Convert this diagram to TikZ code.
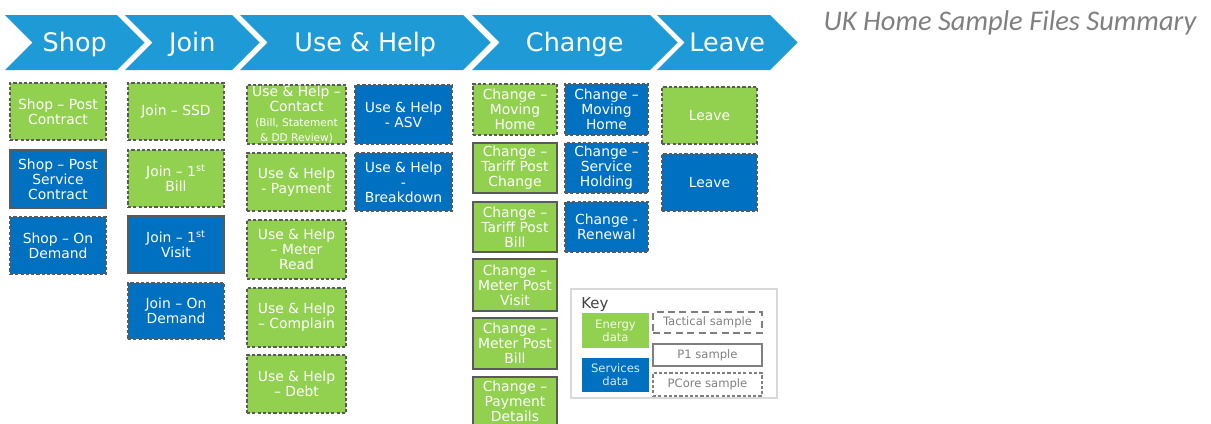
\documentclass[tikz,border=0pt]{standalone}
\usepackage{fontspec}
\setmainfont{DejaVu Sans}
\newfontfamily\headfont{Carlito}
\definecolor{chevron}{HTML}{1E9AD6}
\definecolor{energy}{HTML}{92D050}
\definecolor{services}{HTML}{0070C0}
\definecolor{edge}{HTML}{5A5A5A}
\definecolor{keyline}{HTML}{D9D9D9}
\definecolor{keytext}{HTML}{7F7F7F}
\newcommand\notefont{\fontsize{6}{6.6}\selectfont}
\tikzset{
  span/.style args = {#1/#2/#3/#4}{at={({(#1+#3)/2},{(#2+#4)/2})},
    minimum width={(#3-#1)*0.02cm}, minimum height={(#4-#2)*0.02cm}},% box from corner to corner
  stage_lbl/.style = {anchor=base, text=white, inner sep=0pt,
    font=\fontsize{14.5}{16}\selectfont},
  cell/.style = {align=center, inner sep=0pt, text=white,
    font=\fontsize{7.9}{8.5}\selectfont},
  cell_e/.style = {cell, fill=energy},% energy data
  cell_s/.style = {cell, fill=services},% services data
  p_one/.style = {draw=edge, line width=0.8pt},% P1 sample, plain border
  p_core/.style = {draw=edge, line width=0.8pt,
    dash pattern=on 1.8pt off 1.2pt},% PCore sample
  p_tact/.style = {draw=keytext, line width=0.6pt,
    dash pattern=on 4pt off 2.5pt},% tactical sample
  key_box/.style = {align=center, inner sep=0pt,
    font=\fontsize{6.6}{7.4}\selectfont}
}
\begin{document}
\begin{tikzpicture}[x=0.02cm, y=-0.02cm]
\useasboundingbox (0,0) rectangle (1211,423);
\clip (0,0) rectangle (1211,423);

% customer journey
\foreach \a/\b/\t [count=\i] in {5/117/Shop, 125/232/Join,
    240/463/{Use \& Help}, 472/650/Change, 657/770/Leave}{
  \fill[chevron] (\a,15) -- (\b,15) -- ++(27.5,27.5) -- (\b,70)
    -- (\a,70) -- ++(27.5,-27.5) -- cycle;
  \node (stage\i) [stage_lbl] at ({(\a+27.5+\b)/2},51.5) {\t};
}
\node (title) [anchor=base, text=keytext, inner sep=0pt,
  font=\headfont\itshape\fontsize{16.2}{18}\selectfont] at (1010,30)
  {UK Home Sample Files Summary};

% shop
\node (shop1) [cell_e, p_core, span=10/83/106/140] {Shop – Post\\Contract};
\node (shop2) [cell_s, p_one, span=10/150/106/208] {Shop – Post\\Service\\Contract};
\node (shop3) [cell_s, p_core, span=10/217/106/274] {Shop – On\\Demand};

% join
\node (join1) [cell_e, p_core, span=128/83/224/140] {Join – SSD};
\node (join2) [cell_e, p_core, span=128/150/224/207] {Join – 1\textsuperscript{st}\\Bill};
\node (join3) [cell_s, p_one, span=128/216/224/273] {Join – 1\textsuperscript{st}\\Visit};
\node (join4) [cell_s, p_core, span=128/283/224/339] {Join – On\\Demand};

% use & help
\node (use1) [cell_e, p_core, span=247/85/346/144]
  {Use \& Help –\\Contact\\\notefont(Bill, Statement\\\notefont\& DD Review)};
\node (use2) [cell_e, p_core, span=247/153/346/211] {Use \& Help\\- Payment};
\node (use3) [cell_e, p_core, span=247/220/346/279] {Use \& Help\\– Meter\\Read};
\node (use4) [cell_e, p_core, span=247/288/346/347] {Use \& Help\\– Complain};
\node (use5) [cell_e, p_core, span=247/355/346/413] {Use \& Help\\– Debt};
\node (asv1) [cell_s, p_core, span=355/85/452/144] {Use \& Help\\- ASV};
\node (asv2) [cell_s, p_core, span=355/153/452/211] {Use \& Help\\-\\Breakdown};

% change
\node (chg1) [cell_e, p_core, span=473/84/557/135] {Change –\\Moving\\Home};
\node (chg2) [cell_e, p_one, span=473/143/557/193] {Change –\\Tariff Post\\Change};
\node (chg3) [cell_e, p_one, span=473/202/557/252] {Change –\\Tariff Post\\Bill};
\node (chg4) [cell_e, p_one, span=473/259/557/311] {Change –\\Meter Post\\Visit};
\node (chg5) [cell_e, p_one, span=473/318/557/369] {Change –\\Meter Post\\Bill};
\node (chg6) [cell_e, p_one, span=473/377/557/425] {Change –\\Payment\\Details};
\node (svc1) [cell_s, p_core, span=565/84/648/135] {Change –\\Moving\\Home};
\node (svc2) [cell_s, p_core, span=565/143/648/193] {Change –\\Service\\Holding};
\node (svc3) [cell_s, p_core, span=565/202/648/252] {Change -\\Renewal};

% leave
\node (leave1) [cell_e, p_core, span=662/87/757/144] {Leave};
\node (leave2) [cell_s, p_core, span=662/154/757/211] {Leave};

% key
\node (key) [draw=keyline, line width=0.8pt, inner sep=0pt, span=571/289/777/398] {};
\node (keylbl) [anchor=base west, inner sep=0pt, text=black!75,
  font=\fontsize{8.5}{9}\selectfont] at (581,308) {Key};
\node (keyE) [key_box, fill=energy, text=white!90!energy, span=582/313/649/348] {Energy\\data};
\node (keyS) [key_box, fill=services, text=white!85!services, span=582/358/649/392] {Services\\data};
\node (keyT) [key_box, p_tact, text=keytext, span=653/312/762/333] {Tactical sample};
\node (keyP) [key_box, draw=keytext, line width=0.8pt, text=keytext, span=653/344/762/366] {P1 sample};
\node (keyC) [key_box, p_core, draw=keytext, text=keytext, span=653/373/762/396] {PCore sample};
\end{tikzpicture}
\end{document}
